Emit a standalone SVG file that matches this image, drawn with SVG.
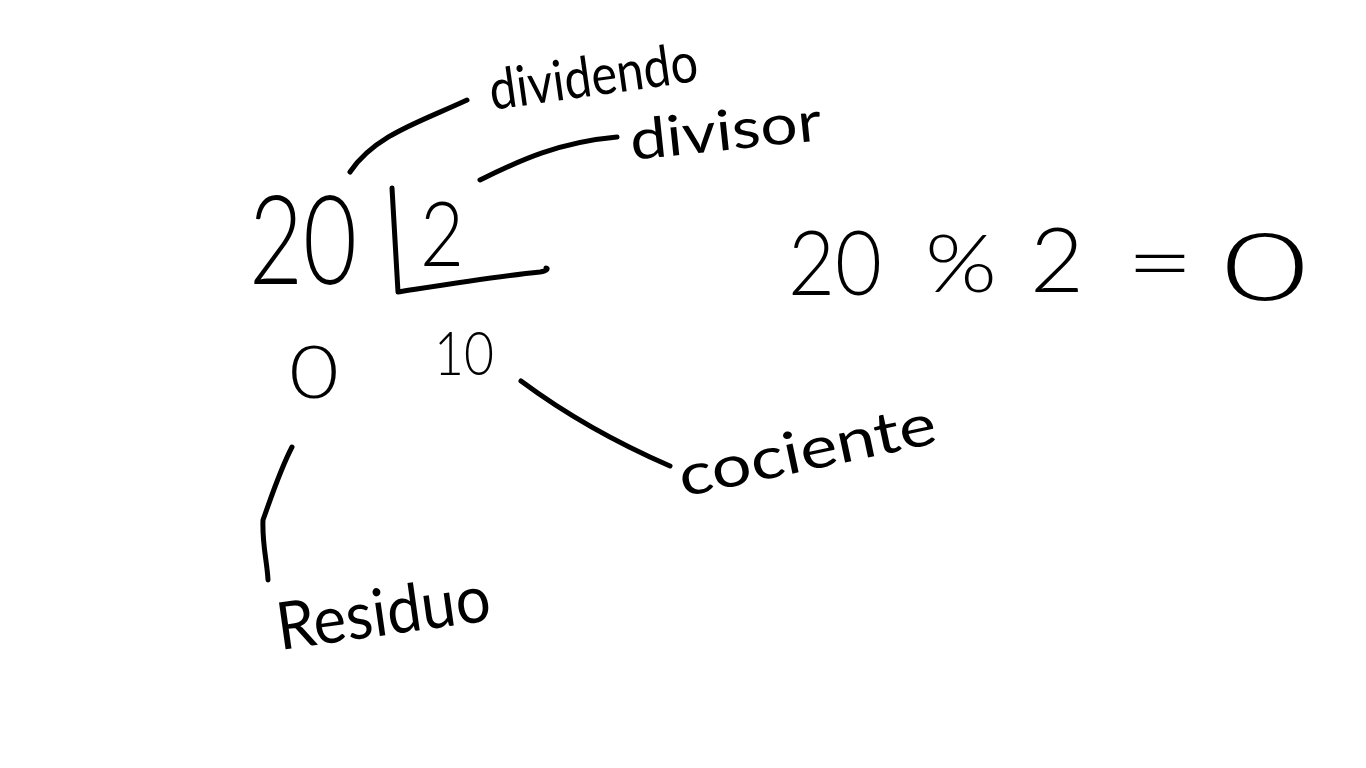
<svg xmlns="http://www.w3.org/2000/svg" width="1366" height="768" viewBox="0 0 1366 768">
<style>
.t{font-family:Lato,"Liberation Sans",sans-serif;font-weight:300;fill:#000}
.l{font-family:Lato,"Liberation Sans",sans-serif;font-weight:400;fill:#000}
.c{fill:none;stroke:#000;stroke-width:5;stroke-linecap:round;stroke-linejoin:round}
</style>
<rect width="1366" height="768" fill="#fff"/>
<g id="connectors">
<path class="c" d="M350,172 C375,135 420,122 467,100"/>
<path class="c" d="M480,180 C520,160 560,142 617,137"/>
<path class="c" d="M521,381 C560,410 610,440 670,466"/>
<path class="c" d="M292,447 C280,470 272,495 263,520 C262,545 267,560 268,580"/>
</g>
<g id="bracket">
<path class="c" d="M392,188 C394,220 396,260 398,292 C450,284 500,276 540,272 C548,271 548,268 546,268"/>
</g>
<g id="dividend"><text class="t" x="249" y="284" font-size="125" textLength="108" lengthAdjust="spacingAndGlyphs">20</text></g>
<g id="divisor-num"><text class="t" x="420" y="266" font-size="90" textLength="44" lengthAdjust="spacingAndGlyphs">2</text></g>
<g id="remainder"><text class="t" x="289" y="398" font-size="72" textLength="50" lengthAdjust="spacingAndGlyphs">0</text></g>
<g id="quotient"><text class="t" x="434" y="375" font-size="62" textLength="60" lengthAdjust="spacingAndGlyphs">10</text></g>
<g id="label-dividendo"><text class="l" x="492" y="110" font-size="56" textLength="210" lengthAdjust="spacingAndGlyphs" transform="rotate(-8 492 110)">dividendo</text></g>
<g id="label-divisor"><text class="l" x="632" y="160" font-size="56" textLength="192" lengthAdjust="spacingAndGlyphs" transform="rotate(-6 632 160)">divisor</text></g>
<g id="label-cociente"><text class="l" x="683" y="497" font-size="58" textLength="262" lengthAdjust="spacingAndGlyphs" transform="rotate(-12 683 497)">cociente</text></g>
<g id="label-residuo"><text class="l" x="280" y="650" font-size="66" textLength="215" lengthAdjust="spacingAndGlyphs" transform="rotate(-8 280 650)">Residuo</text></g>
<g id="equation">
<text class="t" x="788" y="295" font-size="90" textLength="94" lengthAdjust="spacingAndGlyphs">20</text>
<text class="t" x="925" y="292" font-size="80" textLength="72" lengthAdjust="spacingAndGlyphs">%</text>
<text class="t" x="1030" y="292" font-size="90" textLength="54" lengthAdjust="spacingAndGlyphs">2</text>
<text class="t" x="1126" y="294" font-size="90" textLength="68" lengthAdjust="spacingAndGlyphs">=</text>
<text class="t" x="1222" y="300" font-size="92" textLength="86" lengthAdjust="spacingAndGlyphs">0</text>
</g>
</svg>
